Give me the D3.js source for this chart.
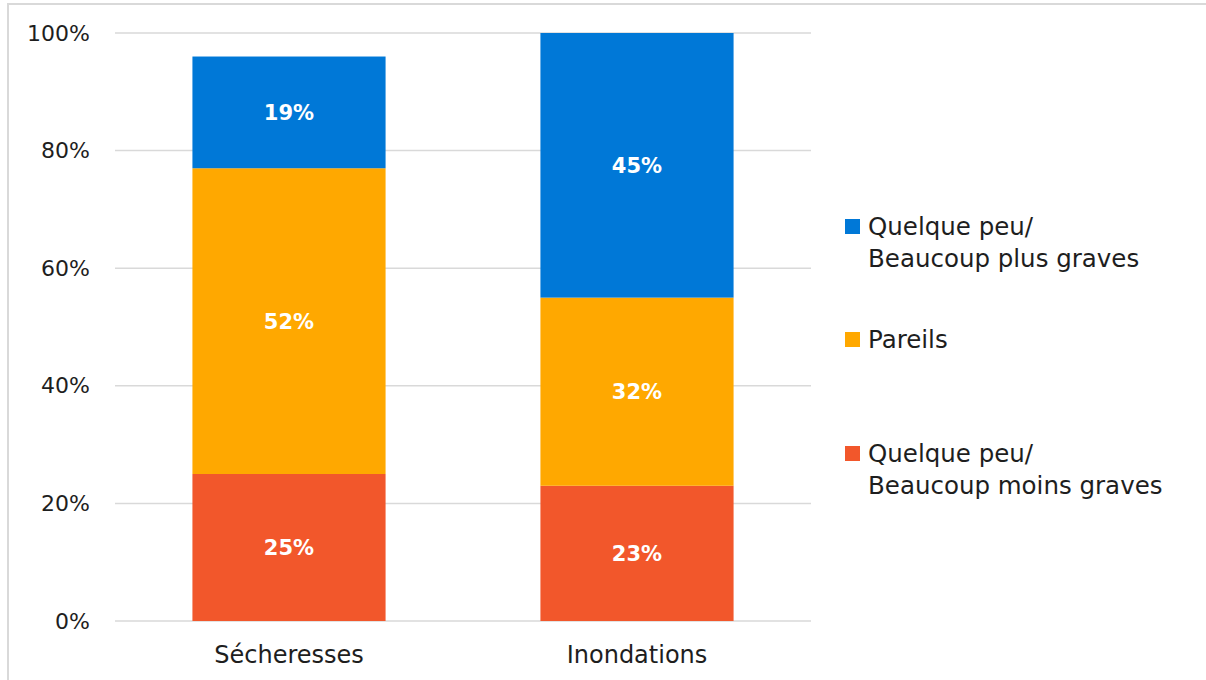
<!DOCTYPE html>
<html>
<head>
<meta charset="utf-8">
<script src="https://cdn.jsdelivr.net/npm/d3@7"></script>
<style>
  body { margin: 0; background: #fff; }
  svg { display: block; font-family: "DejaVu Sans", sans-serif; }
</style>
</head>
<body>
<svg id="chart"></svg>
<script>
var width = 1206;
var height = 680;

var categories = ["Sécheresses", "Inondations"];
var seriesNames = ["Quelque peu/ Beaucoup moins graves", "Pareils", "Quelque peu/ Beaucoup plus graves"];
var moinsGraves = [25, 23];
var pareils = [52, 32];
var plusGraves = [19, 45];
var yTicks = [0, 20, 40, 60, 80, 100];
var colors = ["#f2572b", "#ffa800", "#0078d7"];

var svg = d3.select("#chart")
    .attr("width", width)
    .attr("height", height);

// outer frame
svg.append("rect")
  .attr("x", 8).attr("y", 4)
  .attr("width", width + 10).attr("height", height + 10)
  .attr("fill", "none")
  .attr("stroke", "#d9d9d9")
  .attr("stroke-width", 2);

var xScale = d3.scaleBand()
    .domain(categories)
    .range([115, 811])
    .paddingInner(0.445)
    .paddingOuter(0.2225);

var yScale = d3.scaleLinear()
    .domain([0, 100])
    .range([621, 33]);

// gridlines
svg.selectAll("line.grid")
  .data(yTicks)
  .enter()
  .append("line")
  .attr("class", "grid")
  .attr("x1", 115).attr("x2", 811)
  .attr("y1", function(d) { return yScale(d); })
  .attr("y2", function(d) { return yScale(d); })
  .attr("stroke", "#d9d9d9")
  .attr("stroke-width", 1.5);

var yAxis = svg.append("g")
  .attr("transform", "translate(100,0)")
  .call(d3.axisLeft(yScale).tickValues(yTicks).tickSize(0).tickFormat(function(d) { return d + "%"; }));
yAxis.select(".domain").remove();
yAxis.selectAll("text")
  .attr("x", -10)
  .attr("font-size", 22)
  .attr("font-family", "DejaVu Sans, sans-serif")
  .attr("fill", "#1e1e1e");

var xAxis = svg.append("g")
  .attr("transform", "translate(0,621)")
  .call(d3.axisBottom(xScale).tickSize(0));
xAxis.select(".domain").remove();
xAxis.selectAll("text")
  .attr("y", 25)
  .attr("font-size", 24)
  .attr("font-family", "DejaVu Sans, sans-serif")
  .attr("fill", "#1e1e1e");

var table = categories.map(function(c, i) {
  return { cat: c, moins: moinsGraves[i], pareils: pareils[i], plus: plusGraves[i] };
});
var stack = d3.stack().keys(["moins", "pareils", "plus"])(table);

var layers = svg.selectAll("g.layer")
  .data(stack)
  .enter()
  .append("g")
  .attr("class", "layer")
  .attr("fill", function(d, i) { return colors[i]; });

layers.selectAll("rect")
  .data(function(d) { return d; })
  .enter()
  .append("rect")
  .attr("x", function(d) { return xScale(d.data.cat); })
  .attr("width", xScale.bandwidth())
  .attr("y", function(d) { return yScale(d[1]); })
  .attr("height", function(d) { return yScale(d[0]) - yScale(d[1]); });

layers.selectAll("text")
  .data(function(d) { return d; })
  .enter()
  .append("text")
  .attr("x", function(d) { return xScale(d.data.cat) + xScale.bandwidth() / 2; })
  .attr("y", function(d) { return (yScale(d[0]) + yScale(d[1])) / 2; })
  .attr("dy", "0.37em")
  .attr("text-anchor", "middle")
  .attr("fill", "#fff")
  .attr("font-weight", "bold")
  .attr("font-size", 21)
  .text(function(d) { return (d[1] - d[0]) + "%"; });

// legend (top to bottom: plus, pareils, moins)
var legendItems = [
  { lines: ["Quelque peu/", "Beaucoup plus graves"], color: colors[2], y: 226 },
  { lines: ["Pareils"], color: colors[1], y: 339 },
  { lines: ["Quelque peu/", "Beaucoup moins graves"], color: colors[0], y: 453 }
];

var legend = svg.selectAll("g.legend")
  .data(legendItems)
  .enter()
  .append("g")
  .attr("class", "legend")
  .attr("transform", function(d) { return "translate(845," + d.y + ")"; });

legend.append("rect")
  .attr("x", 0).attr("y", -7)
  .attr("width", 15).attr("height", 15)
  .attr("fill", function(d) { return d.color; });

legend.append("text")
  .attr("x", 23)
  .attr("font-size", 24.5)
  .attr("fill", "#1e1e1e")
  .selectAll("tspan")
  .data(function(d) { return d.lines; })
  .enter()
  .append("tspan")
  .attr("x", 23)
  .attr("y", function(d, i) { return i * 32; })
  .attr("dy", "0.37em")
  .text(function(d) { return d; });
</script>
</body>
</html>
